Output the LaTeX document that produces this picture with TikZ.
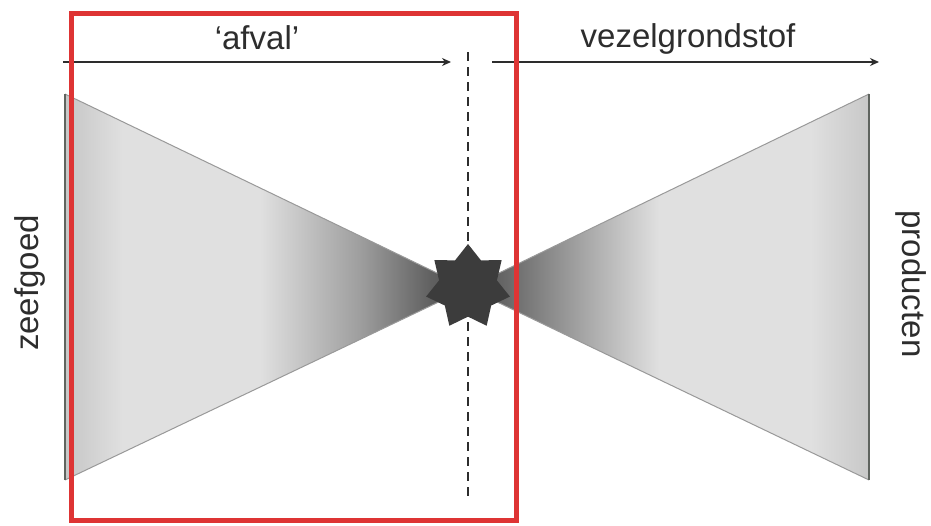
\documentclass[tikz,border=0pt]{standalone}
\usepackage{fontspec}
\setmainfont{Liberation Sans}
\usetikzlibrary{shapes.geometric,arrows.meta}
\definecolor{redbox}{RGB}{222,52,52}
\definecolor{txt}{RGB}{45,45,45}
\definecolor{edgec}{RGB}{95,100,95}
\definecolor{starc}{RGB}{60,60,60}
\pgfdeclarehorizontalshading{lefttri}{100bp}{rgb(0bp)=(.78,.78,.78); rgb(25bp)=(.78,.78,.78); rgb(26.7bp)=(.80,.80,.80); rgb(32.3bp)=(.88,.88,.88); rgb(49.1bp)=(.88,.88,.88); rgb(61.6bp)=(.62,.62,.62); rgb(70.3bp)=(.38,.38,.38); rgb(75bp)=(.30,.30,.30); rgb(100bp)=(.30,.30,.30)}
\pgfdeclarehorizontalshading{righttri}{100bp}{rgb(0bp)=(.30,.30,.30); rgb(25bp)=(.30,.30,.30); rgb(31.5bp)=(.45,.45,.45); rgb(41.4bp)=(.70,.70,.70); rgb(48.9bp)=(.88,.88,.88); rgb(67.5bp)=(.88,.88,.88); rgb(73.8bp)=(.80,.80,.80); rgb(75bp)=(.78,.78,.78); rgb(100bp)=(.78,.78,.78)}
\tikzset{
  lbl/.style={text=txt, font=\fontsize{33}{36}\selectfont, inner sep=0pt},
  flowarrow/.style={draw=txt, line width=2pt, -{Stealth[length=9pt,width=8pt]}},
  divider/.style={draw=txt, line width=2.5pt, dash pattern=on 9pt off 6pt},
  slant/.style={draw=gray!80, line width=1pt},
  baseedge/.style={draw=edgec, line width=2pt},
  starnode/.style={star, star points=7, star point ratio=1.45, minimum size=86pt, inner sep=0pt, fill=starc, draw=none},
  redframe/.style={draw=redbox, line width=5pt}
}
\begin{document}
\begin{tikzpicture}[x=1pt,y=-1pt]
\useasboundingbox (0,0) rectangle (931,525);
\fill[white] (0,0) rectangle (931,525);
% key points
\coordinate (c) at (468,288);
\coordinate (lt) at (65,94);
\coordinate (lb) at (65,480);
\coordinate (rt) at (869,94);
\coordinate (rb) at (869,480);
% triangles
\path[shading=lefttri] (lt) -- (c) -- (lb) -- cycle;
\path[shading=righttri] (rt) -- (c) -- (rb) -- cycle;
\draw[slant] (lt) -- (c) -- (lb);
\draw[slant] (rt) -- (c) -- (rb);
\draw[baseedge] (lt) -- (lb);
\draw[baseedge] (rt) -- (rb);
% dashed divider
\coordinate (dtop) at (468,52);
\coordinate (dbot) at (468,498);
\draw[divider] (dtop) -- (dbot);
% star
\node[starnode] (star) at (468,287) {};
% arrows
\coordinate (a1s) at (63,62);
\coordinate (a1e) at (451,62);
\coordinate (a2s) at (492,62);
\coordinate (a2e) at (879,62);
\draw[flowarrow] (a1s) -- (a1e);
\draw[flowarrow] (a2s) -- (a2e);
% labels
\node[lbl, anchor=base] (afval) at (257,49) {‘afval’};
\node[lbl, anchor=base] (vezel) at (688,47) {vezelgrondstof};
\node[lbl, anchor=base, rotate=90] (zeef) at (38,283) {zeefgoed};
\node[lbl, anchor=base, rotate=-90] (prod) at (902,284) {producten};
% red frame
\draw[redframe] (71.5,13.5) rectangle (516.5,520.5);
\end{tikzpicture}
\end{document}
